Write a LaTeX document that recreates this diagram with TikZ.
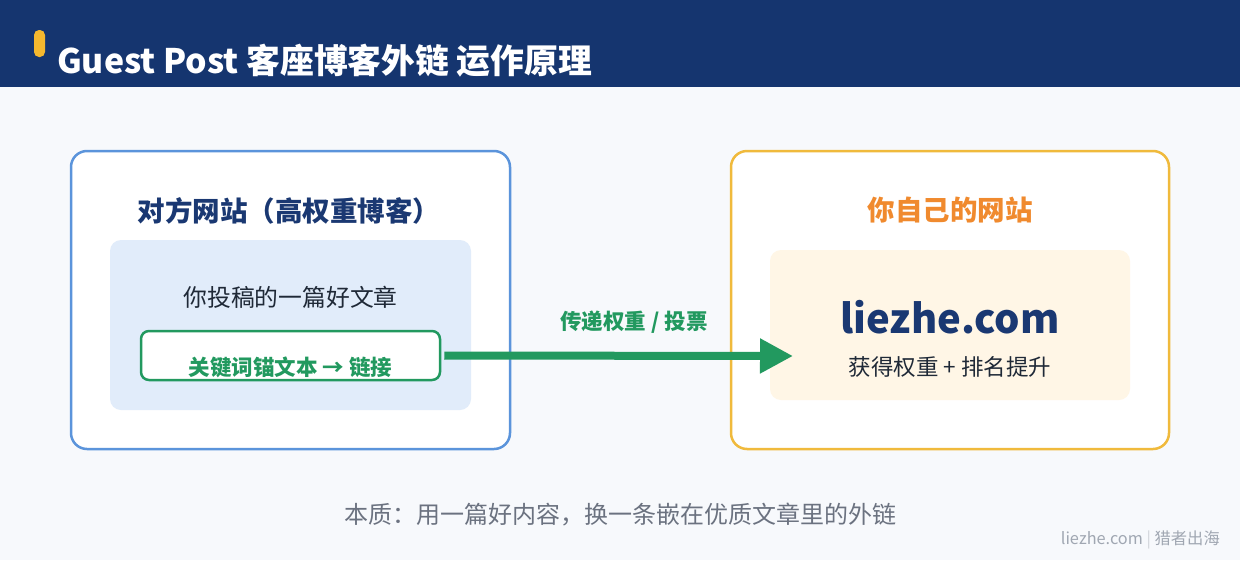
\documentclass[tikz,border=0pt]{standalone}
\usepackage{fontspec}
\setmainfont{Noto Sans CJK SC}
\usetikzlibrary{arrows.meta}
\definecolor{navy}{HTML}{15356F}
\definecolor{bgc}{HTML}{F7F9FC}
\definecolor{bluestroke}{HTML}{5B94DB}
\definecolor{navytext}{HTML}{1A3872}
\definecolor{innerblue}{HTML}{E1ECFA}
\definecolor{greenc}{HTML}{22995F}
\definecolor{yellowstroke}{HTML}{F0BA3C}
\definecolor{orangec}{HTML}{F08A2E}
\definecolor{cream}{HTML}{FFF6E6}
\definecolor{darktext}{HTML}{1F2937}
\definecolor{footgray}{HTML}{6B7280}
\definecolor{wmgray}{HTML}{A0A7B2}
\definecolor{pill}{HTML}{F5B82E}
\newcommand{\fs}[1]{\fontsize{#1}{#1}\selectfont}
\tikzset{
  outerbox/.style={draw, line width=2.5pt, fill=white, rounded corners=16pt},
  innerbox/.style={rounded corners=11pt},
  txt/.style={inner sep=0pt, anchor=base},
}
\begin{document}
\begin{tikzpicture}[x=1pt,y=-1pt]
\useasboundingbox (0,0) rectangle (1240,560);
\fill[bgc] (0,0) rectangle (1240,560);
% header
\fill[navy] (0,0) rectangle (1240,87);
\fill[pill, rounded corners=5pt] (34,30) rectangle (45,57);
\node[txt, anchor=base west, text=white] (title) at (57,73) {\fs{33.8}\bfseries Guest Post 客座博客外链 运作原理};
% left box
\draw[outerbox, draw=bluestroke] (71,151) rectangle (510,449);
\node[txt, text=navytext] (ltitle) at (289,221) {\fs{27.5}\bfseries 对方网站（高权重博客）};
\fill[innerblue, innerbox] (110,240) rectangle (471,410);
\node[txt, text=darktext] (article) at (290.5,306) {\fs{23.8}你投稿的一篇好文章};
\node[draw=greenc, line width=2.5pt, fill=white, rounded corners=8pt, minimum width=299pt, minimum height=49pt, inner sep=0pt] (anchorbox) at (290.5,355.5) {};
\node[txt, text=greenc] (anchortext) at (290.5,375) {\fs{21.5}\bfseries 关键词锚文本 → 链接};
% right box
\draw[outerbox, draw=yellowstroke] (731,151) rectangle (1169,449);
\node[txt, text=orangec] (rtitle) at (950,220) {\fs{27.5}\bfseries 你自己的网站};
\fill[cream, innerbox] (770,250) rectangle (1130,400);
\node[txt, text=navytext] (domain) at (950,333) {\fs{40}\bfseries liezhe.com};
\node[txt, text=darktext] (gain) at (950,375) {\fs{22.5}获得权重 + 排名提升};
% arrow
\coordinate (tip) at (793,356);
\draw[greenc, line width=8pt, -{Triangle[length=33pt,width=33pt]}] (anchorbox.east) ++(3,0) -- (tip);
\node[txt, text=greenc] (alabel) at (634,329) {\fs{21.5}\bfseries 传递权重 / 投票};
% footer
\node[txt, text=footgray] (foot) at (620,523) {\fs{24}本质：用一篇好内容，换一条嵌在优质文章里的外链};
\node[txt, anchor=base east, text=wmgray] (wm) at (1220,544) {\fs{16.3}liezhe.com {\color{wmgray!50}|} 猎者出海};
\end{tikzpicture}
\end{document}
